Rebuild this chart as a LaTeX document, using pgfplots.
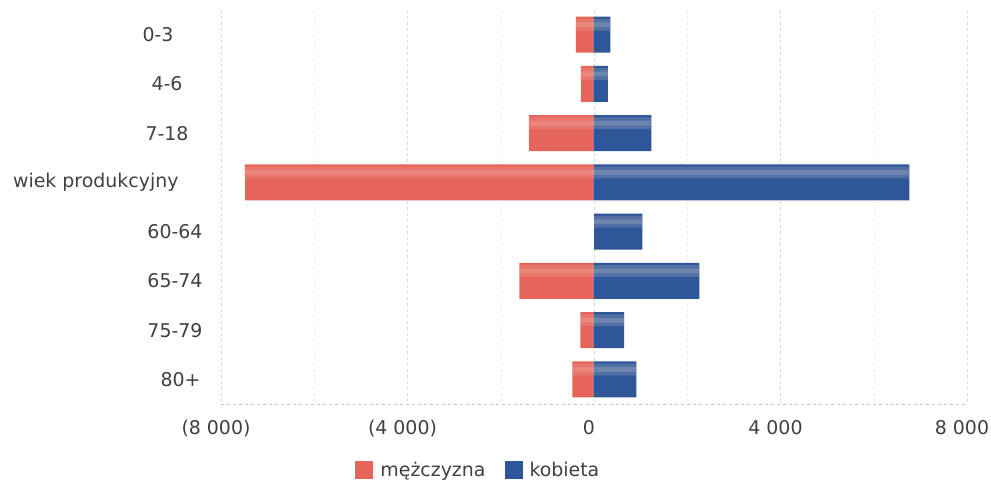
\documentclass[border=0pt]{standalone}
\usepackage{pgfplots}
\pgfplotsset{compat=1.18}
\usepackage{fontspec}
\setmainfont{DejaVu Sans}
\definecolor{txt}{HTML}{404040}
\definecolor{rdark}{HTML}{E5655B}
\definecolor{rlight}{HTML}{F3ABA4}
\definecolor{bdark}{HTML}{30569A}
\definecolor{blight}{HTML}{A3ADC0}
\pgfplotstableread{
y   m      k
0   -390   350
1   -280   300
2   -1395  1230
3   -7490  6765
4   0      1035
5   -1600  2260
6   -295   645
7   -465   908
}\pyr
\begin{document}
\begin{tikzpicture}[font=\fontsize{19}{23}\selectfont]
\useasboundingbox (0,0) rectangle (991bp,484bp);
\begin{axis}[
  at={(221bp,80bp)}, anchor=south west,
  scale only axis, width=746bp, height=394bp,
  xmin=-8000, xmax=8000, ymin=-0.5, ymax=7.5, y dir=reverse,
  xtick={-8000,-4000,0,4000,8000},
  xticklabels={(8 000),(4 000),0,4 000,8 000},
  minor xtick={-6000,-2000,2000,6000},
  ytick={0,...,7},
  yticklabels={{0-3\kern29bp},{4-6\kern20bp},{7-18\kern14bp},{wiek produkcyjny\kern24bp},60-64,65-74,75-79,{80+\kern2bp}},
  separate axis lines,
  axis x line*=bottom, axis y line*=left,
  x axis line style={draw=gray!45, dashed},
  y axis line style={draw=none},
  tick style={draw=none}, major tick length=0pt, minor tick length=0pt,
  xmajorgrids, xminorgrids,
  major grid style={draw=gray!30, dashed},
  minor grid style={draw=gray!15, dashed},
  tick label style={text=txt},
  xticklabel style={yshift=-13bp, xshift=-5bp},
  yticklabel style={xshift=-15bp},
  legend style={at={(0.345,-0.1675)}, anchor=center, draw=none, fill=none,
    legend columns=2, text=txt,
    /tikz/every even column/.append style={column sep=17bp}},
  legend image code/.code={\path[draw=none,fill=none] (0bp,-9bp) rectangle (23bp,9bp);\path[#1,draw=none] (0bp,-9bp) rectangle (18bp,9bp);},
]
\addplot[xbar, bar width=0.73, bar shift=0pt, draw=none, fill=rdark]
  table[x=m, y=y] {\pyr};
\addlegendentry{mężczyzna}
\addplot[xbar, bar width=0.73, bar shift=0pt, draw=none, fill=bdark]
  table[x=k, y=y] {\pyr};
\addlegendentry{kobieta}
\addplot[xbar, bar width=0.24, bar shift=-0.2, draw=none, fill=rlight, fill opacity=0.25, forget plot]
  table[x=m, y=y] {\pyr};
\addplot[xbar, bar width=0.1, bar shift=-0.2, draw=none, fill=rlight, fill opacity=0.3, forget plot]
  table[x=m, y=y] {\pyr};
\addplot[xbar, bar width=0.24, bar shift=-0.2, draw=none, fill=blight, fill opacity=0.3, forget plot]
  table[x=k, y=y] {\pyr};
\addplot[xbar, bar width=0.1, bar shift=-0.2, draw=none, fill=blight, fill opacity=0.35, forget plot]
  table[x=k, y=y] {\pyr};
\end{axis}
\end{tikzpicture}
\end{document}
